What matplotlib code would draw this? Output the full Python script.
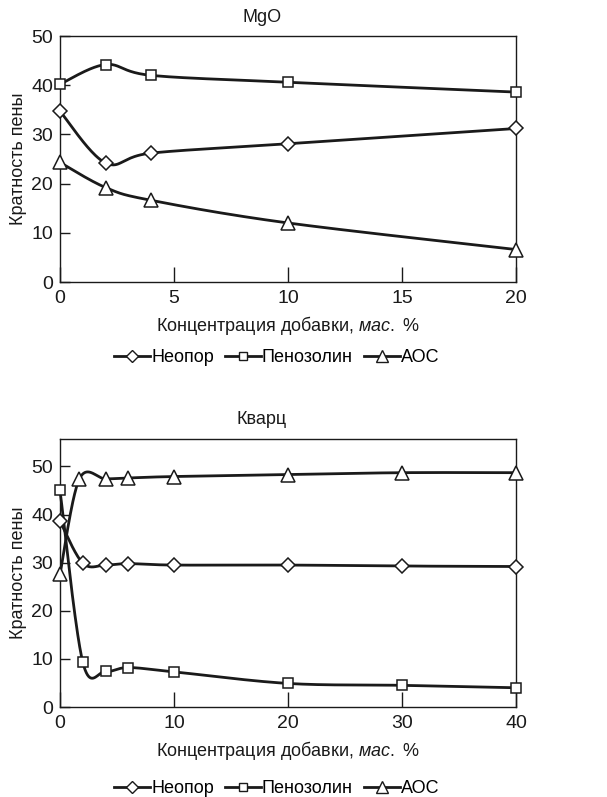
import numpy as np
import matplotlib
matplotlib.use("Agg")
import matplotlib.pyplot as plt
from matplotlib.lines import Line2D

plt.rcParams['font.family'] = ['Liberation Sans', 'DejaVu Sans']
plt.rcParams['mathtext.fontset'] = 'custom'
plt.rcParams['mathtext.it'] = 'Liberation Sans:italic'
plt.rcParams['mathtext.rm'] = 'Liberation Sans'

series_names = ["Неопор", "Пенозолин", "АОС"]
markers = ["D", "s", "^"]

# MgO panel
mgo_x = [0, 2, 4, 10, 20]
mgo_neopor = [34.7, 24.2, 26.2, 28.1, 31.2]
mgo_penozolin = [40.2, 44.2, 42.0, 40.6, 38.6]
mgo_aos = [24.3, 19.2, 16.6, 12.0, 6.6]

# Quartz panel
q_x = [0, 2, 4, 6, 10, 20, 30, 40]
q_x_aos = [0, 1.7, 4, 6, 10, 20, 30, 40]
q_neopor = [38.6, 29.9, 29.5, 29.8, 29.5, 29.5, 29.3, 29.2]
q_penozolin = [45.0, 9.3, 7.4, 8.2, 7.3, 4.9, 4.5, 4.0]
q_aos = [27.6, 47.4, 47.4, 47.6, 47.9, 48.3, 48.7, 48.7]

title_top = "MgO"
title_bottom = "Кварц"
xlabel = "Концентрация добавки, $\\it{мас.}$ $\\it{\\%}$"
ylabel = "Кратность пены"


def smooth(x, y, n=40):
    P = np.column_stack([x, y]).astype(float)
    m = len(P)
    out = []
    for i in range(m - 1):
        p0 = P[i - 1] if i > 0 else P[i]
        p1 = P[i]
        p2 = P[i + 1]
        p3 = P[i + 2] if i + 2 < m else P[i + 1]
        b1 = p1 + (p2 - p0) / 6.0
        b2 = p2 - (p3 - p1) / 6.0
        t = np.linspace(0, 1, n)[:, None]
        seg = ((1 - t) ** 3) * p1 + 3 * ((1 - t) ** 2) * t * b1 + 3 * (1 - t) * t ** 2 * b2 + t ** 3 * p2
        out.append(seg if i == 0 else seg[1:])
    s = np.vstack(out)
    return s[:, 0], s[:, 1]


fig = plt.figure(figsize=(6.07, 7.97), dpi=100)
W, H = 607, 797


def make_ax(left, top, right, bottom):
    return fig.add_axes([left / W, 1 - bottom / H, (right - left) / W, (bottom - top) / H])


msizes = {"D": 7.5, "s": 7.5, "^": 9.5}
INK = "#1a1a1a"


def draw(ax, xs_list, ys_list, xlim, ylim, xticks, yticks, title, title_y):
    for xs, ys, mk in zip(xs_list, ys_list, markers):
        sx, sy = smooth(xs, ys)
        ax.plot(sx, sy, color=INK, lw=2.0, zorder=2, clip_on=False)
        ax.plot(xs, ys, linestyle="none", marker=mk, markersize=msizes[mk],
                markerfacecolor="white", markeredgecolor=INK, markeredgewidth=1.1,
                zorder=3, clip_on=False)
    ax.set_xlim(*xlim)
    ax.set_ylim(*ylim)
    ax.set_xticks(xticks)
    ax.set_yticks(yticks)
    ax.tick_params(axis="both", direction="in", labelsize=14, colors=INK)
    ax.tick_params(axis="x", length=11, width=1, pad=6)
    ax.tick_params(axis="y", length=7, width=1, pad=5)
    for sp in ax.spines.values():
        sp.set_linewidth(1.0)
        sp.set_color(INK)
    ax.set_xlabel(xlabel, fontsize=13, color=INK, labelpad=5)
    ax.set_ylabel(ylabel, fontsize=13, color=INK, labelpad=3)
    fig.text(262 / W, 1 - title_y / H, title, ha="center", va="center", fontsize=13, color=INK)
    handles = [Line2D([], [], color=INK, lw=2.0, marker=mk, markersize=msizes[mk] * 0.85,
                      markerfacecolor="white", markeredgecolor=INK, markeredgewidth=1.0)
               for mk in markers]
    ax.legend(handles, series_names, loc="upper center", bbox_to_anchor=(0.475, -0.245),
              ncol=3, frameon=False, fontsize=13, handlelength=2.0, handletextpad=0.05,
              columnspacing=0.6, borderaxespad=0)


ax1 = make_ax(60, 36, 516, 282)
draw(ax1, [mgo_x, mgo_x, mgo_x], [mgo_neopor, mgo_penozolin, mgo_aos],
     (0, 20), (0, 50), [0, 5, 10, 15, 20], [0, 10, 20, 30, 40, 50], title_top, 17)

ax2 = make_ax(60, 439, 516, 707)
draw(ax2, [q_x, q_x, q_x_aos], [q_neopor, q_penozolin, q_aos],
     (0, 40), (0, 55.7), [0, 10, 20, 30, 40], [0, 10, 20, 30, 40, 50], title_bottom, 420)

fig.savefig("out.png", dpi=100)
